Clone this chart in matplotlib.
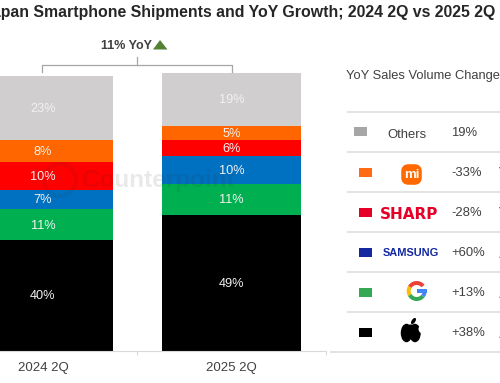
import matplotlib
matplotlib.use('Agg')
import matplotlib.pyplot as plt
from matplotlib.patches import Rectangle, Polygon, Wedge, Ellipse, Circle, FancyBboxPatch

plt.rcParams['font.family'] = ['Liberation Sans', 'DejaVu Sans']

# Data, stacked from the bottom up
quarters = ['2024 2Q', '2025 2Q']
brands = ['Apple', 'Google', 'Samsung', 'Sharp', 'Xiaomi', 'Others']
share_2024 = [40, 11, 7, 10, 8, 23]
share_2025 = [49, 11, 10, 6, 5, 19]
bar_colors = ['#000000', '#00b050', '#0070c0', '#ff0000', '#ff6600', '#d0cece']

# Table rows, from the top down
row_names = ['Others', 'Xiaomi', 'Sharp', 'Samsung', 'Google', 'Apple']
row_changes = ['19%', '-33%', '-28%', '+60%', '+13%', '+38%']
row_colors = ['#a6a6a6', '#ff6a13', '#e60027', '#1428a0', '#34a853', '#000000']

W, H = 500, 383
TEXT = '#404040'

fig = plt.figure(figsize=(W / 100, H / 100), dpi=100, facecolor='white')

# Bars
ax = fig.add_axes([0, (H - 351) / H, 326 / W, 278 / H])
ax.set_xlim(-0.2275, 1.5)
ax.set_ylim(0, 100)
bottoms = [0, 0]
for i in range(len(brands)):
    vals = [share_2024[i], share_2025[i]]
    ax.bar([0, 1], vals, width=0.74, bottom=bottoms, color=bar_colors[i], linewidth=0)
    for j, v in enumerate(vals):
        ax.annotate(f'{v}%', (j, bottoms[j] + v / 2), xytext=(0, -1), textcoords='offset pixels',
                    ha='center', va='center', color='#f2f2f2', fontsize=9.2)
    bottoms = [bottoms[0] + vals[0], bottoms[1] + vals[1]]
for s in ['top', 'left', 'right']:
    ax.spines[s].set_visible(False)
ax.spines['bottom'].set_color('#d9d9d9')
ax.patch.set_alpha(0)
ax.set_yticks([])
ax.set_xticks([0.5, 1.5])
ax.set_xticklabels([])
ax.tick_params(axis='x', length=3, color='#d9d9d9')
for i, q in enumerate(quarters):
    ax.annotate(q, (i, 0), xytext=(0, -16.5), textcoords='offset pixels', ha='center', va='center',
                fontsize=9.5, color=TEXT)

# Everything else is placed in pixels on a transparent overlay
ov = fig.add_axes([0, 0, 1, 1])
ov.set_xlim(0, W)
ov.set_ylim(H, 0)
ov.axis('off')
ov.patch.set_alpha(0)

ov.text(495, 13, 'Japan Smartphone Shipments and YoY Growth; 2024 2Q vs 2025 2Q', ha='right',
        va='center', fontsize=11.4, fontweight='bold', color='#262626', clip_on=False)

# Growth bracket
ov.plot([42, 42, 232, 232], [72, 65, 65, 72], color='#a6a6a6', lw=0.9)
ov.plot([137, 137], [57, 65], color='#a6a6a6', lw=0.9)
ov.text(126.5, 46, '11% YoY', ha='center', va='center', fontsize=9, fontweight='bold', color=TEXT)
ov.add_patch(Polygon([[153, 49.5], [167.5, 49.5], [160, 40]], color='#548235', lw=0))

# Watermark
ov.text(82, 180, 'Counterpoint', ha='left', va='center', fontsize=17.5, fontweight='bold',
        color='#303030', alpha=0.1)
ov.add_patch(Circle((60, 180), 16, fill=False, ec='#303030', lw=3, alpha=0.08))

# Table
ov.text(346, 76, 'YoY Sales Volume Changes', ha='left', va='center', fontsize=9.3, color=TEXT)
first_line = 112
step = 40
for i in range(7):
    y = first_line + i * step
    ov.plot([330 if i == 6 else 347, W], [y, y], color='#dedede', lw=1.2, solid_capstyle='butt')

for i, (name, change, col) in enumerate(zip(row_names, row_changes, row_colors)):
    yc = first_line + i * step + 20
    x0 = 354 if i == 0 else 359
    w = 13 if i == 0 else 12.5
    ov.add_patch(Rectangle((x0, yc - 4.5 + (0 if i else -1)), w, 9.5, color=col, lw=0))
    ov.text(451, yc + 1, change, ha='left', va='center', fontsize=9.4, color=TEXT)
    if change[0] == '-':
        ov.add_patch(Polygon([[499, yc - 5], [505, yc - 5], [502, yc + 1]], color='#e00000', lw=0))
    elif change[0] == '+':
        ov.add_patch(Polygon([[499, yc + 6], [505, yc + 6], [502, yc]], color='#70ad47', lw=0))

# Others label and brand logos
ov.text(407, 135, 'Others', ha='center', va='center', fontsize=9.4, color=TEXT)

ov.add_patch(FancyBboxPatch((404, 167), 15, 15, boxstyle='round,pad=0,rounding_size=4.5',
                            mutation_aspect=1, fc='#ff6900', ec='#ff6900', lw=4))
ov.text(411.5, 174.5, 'mi', ha='center', va='center', fontsize=9.5, color='white', fontweight='bold')

ov.text(409, 214.5, 'SHARP', ha='center', va='center', fontsize=11, fontweight='bold',
        color='#e60027', family='DejaVu Sans')
ov.text(411, 253.5, 'SAMSUNG', ha='center', va='center', fontsize=7.9, fontweight='bold',
        color='#1428a0')

gx, gy = 416.7, 291
for t1, t2, c in [(-150, -38, '#ea4335'), (-210, -150, '#fbbc05'), (-322, -210, '#34a853'), (-360, -322, '#4285f4')]:
    ov.add_patch(Wedge((gx, gy), 10, t1, t2, width=4, color=c, lw=0))
ov.add_patch(Rectangle((gx, gy - 2), 10, 4, color='#4285f4', lw=0))

ov.add_patch(Ellipse((406.5, 333), 11.5, 18.5, color='black', lw=0))
ov.add_patch(Ellipse((415, 333), 11.5, 18.5, color='black', lw=0))
ov.add_patch(Ellipse((411, 330), 15, 11, color='black', lw=0))
ov.add_patch(Circle((423, 329), 4.5, color='white', lw=0))
ov.add_patch(Ellipse((413.5, 321), 3.6, 7, angle=35, color='black', lw=0))

fig.savefig('out.png', dpi=100)
